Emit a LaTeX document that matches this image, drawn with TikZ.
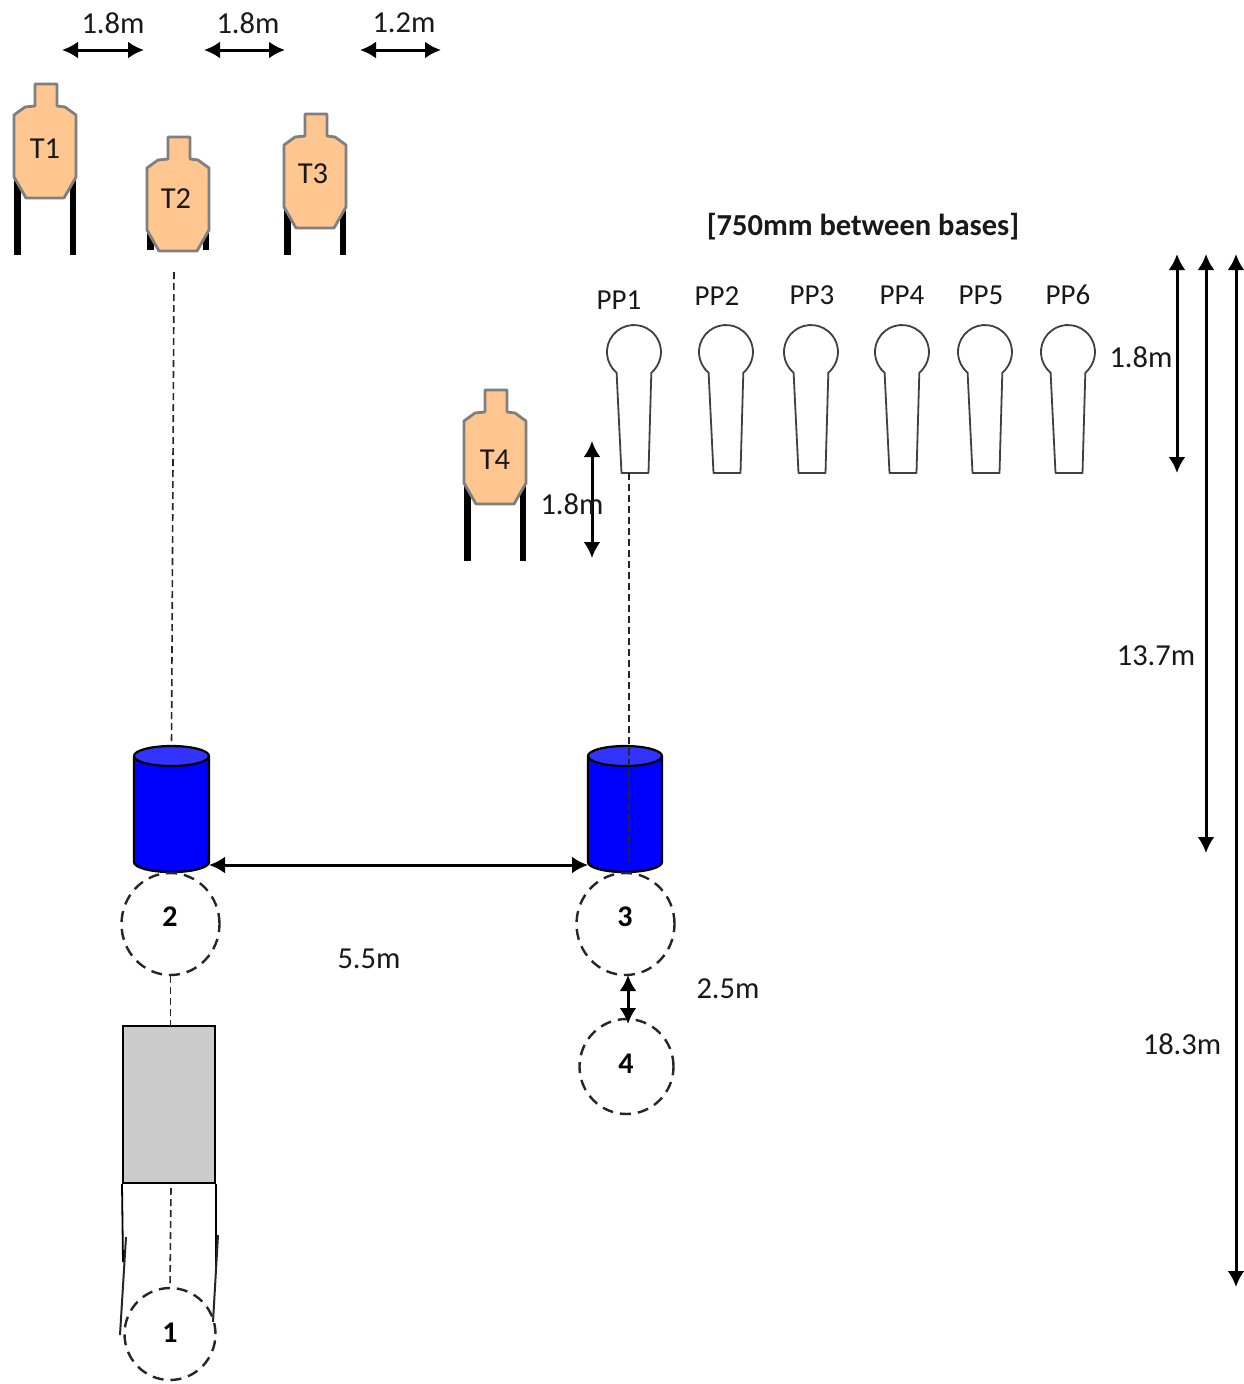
\documentclass[tikz,border=0pt]{standalone}
\usepackage{fontspec}
\setmainfont{Carlito}
\usetikzlibrary{arrows.meta,shapes.geometric}
\definecolor{tgtfill}{HTML}{FFC78F}
\definecolor{tgtline}{HTML}{7F7F7F}
\definecolor{cylblue}{HTML}{0000FF}
\definecolor{cyltop}{HTML}{3333FF}
\definecolor{rectgray}{HTML}{CCCCCC}
\tikzset{
  lbl/.style={inner sep=0pt,font=\fontsize{30.5}{36}\selectfont,text=black!90},
  pplbl/.style={inner sep=0pt,font=\fontsize{29}{34}\selectfont,text=black!90},
  numlbl/.style={inner sep=0pt,font=\fontsize{30}{36}\selectfont\bfseries,text=black},
  dim/.style={line width=3pt,{Latex[length=16pt,width=17pt]}-{Latex[length=16pt,width=17pt]}},
  guide/.style={line width=1.6pt,dash pattern=on 7pt off 4pt,draw=black!85},
  dcircle/.style={ellipse,draw=black!85,line width=2.4pt,dash pattern=on 11pt off 7pt,inner sep=0pt},
  tgt/.style={fill=tgtfill,draw=tgtline,line width=2.8pt,line join=round},
  leg/.style={line width=6.5pt,draw=black},
  popper/.style={draw=black!75,line width=1.8pt,fill=white,line join=round},
  cylbody/.style={fill=cylblue,draw=black,line width=2.4pt},
  cylcap/.style={fill=cyltop,draw=black,line width=2.2pt},
}
% target: #1 centre x, #2 top y, #3 leg end y
\newcommand{\mytarget}[3]{%
  \draw[leg] ({#1-27.5},{#2+88}) -- ({#1-27.5},#3);
  \draw[leg] ({#1+28},{#2+88}) -- ({#1+28},#3);
  \draw[tgt] ({#1-10},#2) -- ({#1+12},#2) -- ({#1+12},{#2+22}) -- ({#1+20},{#2+23})
    -- ({#1+31},{#2+31}) -- ({#1+31},{#2+93}) -- ({#1+19},{#2+114}) -- ({#1-19},{#2+114})
    -- ({#1-31},{#2+93}) -- ({#1-31},{#2+31}) -- ({#1-20},{#2+23}) -- ({#1-10},{#2+22}) -- cycle;
}
% popper: #1 centre x
\newcommand{\mypopper}[1]{%
  \draw[popper] ({#1-17.4},372.7) arc[start angle=230,end angle=-50,radius=27pt]
    -- ({#1+14.5},473) -- ({#1-12.5},473) -- cycle;
}
% barrel: #1 left x, #2 right x, #3 name prefix
\newcommand{\mybarrel}[3]{%
  \draw[cylbody] (#1,756) -- (#1,862) arc[start angle=180,end angle=360,x radius={(#2-#1)/2*1pt},y radius=10pt]
    -- (#2,756);
  \draw[cylcap] ({(#1+#2)/2},756) ellipse[x radius={(#2-#1)/2*1pt},y radius=10pt];
  \coordinate (#3top) at ({(#1+#2)/2},746);
  \coordinate (#3left) at (#1,865);
  \coordinate (#3right) at (#2,865);
}
\begin{document}
\begin{tikzpicture}[x=1pt,y=-1pt]
\useasboundingbox (0,0) rectangle (1243,1384);
\fill[white] (0,0) rectangle (1243,1384);

% targets
\mytarget{45}{84}{255}
\mytarget{178}{137}{250}
\mytarget{315}{114}{255}
\mytarget{495}{390}{561}
\node[lbl] (t1) at (45,148.5) {T1};
\node[lbl] (t2) at (176,198.5) {T2};
\node[lbl] (t3) at (313,173.5) {T3};
\node[lbl] (t4) at (495,459.5) {T4};

% top dimensions
\coordinate (a1l) at (62,50); \coordinate (a1r) at (144,50);
\coordinate (a2l) at (204,50); \coordinate (a2r) at (285,50);
\coordinate (a3l) at (360,50); \coordinate (a3r) at (441,50);
\draw[dim] (a1l) -- (a1r);
\draw[dim] (a2l) -- (a2r);
\draw[dim] (a3l) -- (a3r);
\node[lbl] (d1) at (113,23) {1.8m};
\node[lbl] (d2) at (248,23) {1.8m};
\node[lbl] (d3) at (404,23) {1.2m};

% poppers
\node[inner sep=0pt,font=\fontsize{30.5}{36}\selectfont\bfseries,text=black!90] (bases) at (863,227) {[750mm between bases]};
\mypopper{634}\mypopper{726}\mypopper{811}\mypopper{902}\mypopper{985}\mypopper{1068}
\node[pplbl] (pp1) at (619,300.5) {PP1};
\node[pplbl] (pp2) at (717,296) {PP2};
\node[pplbl] (pp3) at (812,295) {PP3};
\node[pplbl] (pp4) at (902,295) {PP4};
\node[pplbl] (pp5) at (981,295) {PP5};
\node[pplbl] (pp6) at (1068,295) {PP6};

% barrels
\mybarrel{134}{209}{bl}
\mybarrel{588}{662}{br}

% firing positions
\node[dcircle,minimum width=98pt,minimum height=102pt] (c2) at (170.5,924) {};
\node[dcircle,minimum width=98pt,minimum height=102pt] (c3) at (625.5,924) {};
\node[dcircle,minimum width=94pt,minimum height=95pt] (c4) at (626.5,1066.5) {};
\node[dcircle,minimum width=91pt,minimum height=92pt] (c1) at (170,1334) {};
\node[numlbl] (n2) at (170,917) {2};
\node[numlbl] (n3) at (625,917) {3};
\node[numlbl] (n4) at (626,1064) {4};
\node[numlbl] (n1) at (170,1333) {1};

% shelter
\node[draw=black,line width=2pt,fill=rectgray,minimum width=92pt,minimum height=157pt,inner sep=0pt] (port) at (169,1104.5) {};
\draw[line width=1.8pt] (port.south west) -- (123,1262);
\draw[line width=1.8pt] (port.south east) -- (216,1270);
\coordinate (wl1) at (126,1237); \coordinate (wl2) at (120,1335);
\coordinate (wr1) at (218,1235); \coordinate (wr2) at (213,1322);
\draw[line width=2pt,draw=black!85] (wl1) -- (wl2);
\draw[line width=2pt,draw=black!85] (wr1) -- (wr2);

% guides
\coordinate (g2top) at (174,272);
\coordinate (g3top) at (629,473);
\coordinate (g3bot) at (629,862);
\coordinate (gpb) at (171,1188);
\draw[guide] (g2top) -- (bltop);
\draw[guide] (g3top) -- (g3bot);
\draw[guide] (c2.south) -- (port.north -| c2.south);
\draw[guide] (gpb) -- (c1.north);

% other dimensions
\draw[dim] (blright) -- (brleft);
\coordinate (a4t) at (592,441); \coordinate (a4b) at (592,558);
\draw[dim] (a4t) -- (a4b);
\coordinate (a5t) at (628,975); \coordinate (a5b) at (628,1024);
\draw[dim] (a5t) -- (a5b);
\coordinate (r1t) at (1177,254); \coordinate (r1b) at (1177,473);
\coordinate (r2t) at (1206,254); \coordinate (r2b) at (1206,853);
\coordinate (r3t) at (1236,254); \coordinate (r3b) at (1236,1287);
\draw[dim] (r1t) -- (r1b);
\draw[dim] (r2t) -- (r2b);
\draw[dim] (r3t) -- (r3b);

\node[lbl] (d4) at (572,504.5) {1.8m};
\node[lbl] (d5) at (369,958.5) {5.5m};
\node[lbl] (d6) at (728,988.5) {2.5m};
\node[lbl] (d7) at (1141,357.5) {1.8m};
\node[lbl] (d8) at (1156,655.5) {13.7m};
\node[lbl] (d9) at (1182,1044) {18.3m};
\end{tikzpicture}
\end{document}
